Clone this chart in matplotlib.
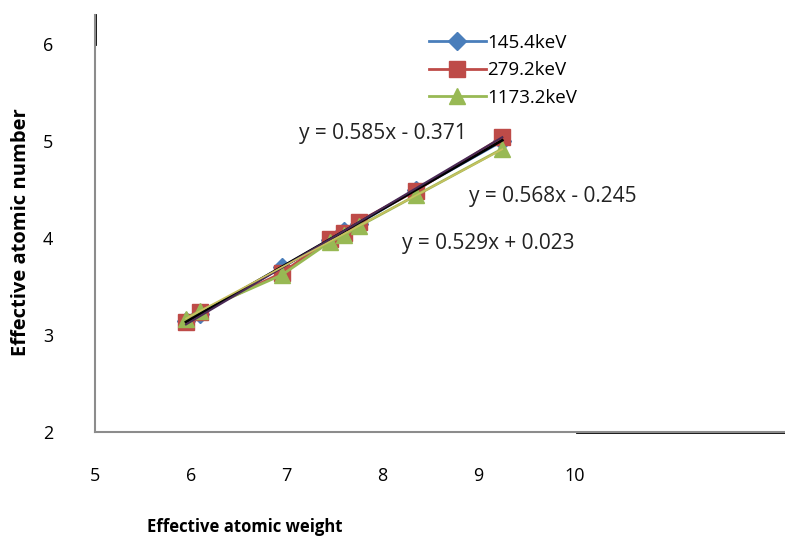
import numpy as np
import matplotlib.pyplot as plt

plt.rcParams['font.family'] = ['Open Sans', 'DejaVu Sans']

# Datos
peso_efectivo = [5.95, 6.10, 6.95, 7.45, 7.60, 7.75, 8.35, 9.25]
z_145 = [3.14, 3.22, 3.70, 3.98, 4.07, 4.15, 4.50, 5.00]
z_279 = [3.13, 3.24, 3.64, 3.99, 4.05, 4.17, 4.49, 5.04]
z_1173 = [3.17, 3.25, 3.62, 3.96, 4.03, 4.12, 4.44, 4.92]

series = ['145.4keV', '279.2keV', '1173.2keV']
pendientes = [0.568, 0.585, 0.529]
ordenadas = [-0.245, -0.371, 0.023]
ecuaciones = ['y = 0.568x - 0.245', 'y = 0.585x - 0.371', 'y = 0.529x + 0.023']

fig = plt.figure(figsize=(7.85, 5.38), dpi=100)
ax = fig.add_axes([0.121, 0.197, 0.879, 0.775])

colores = ['#4a7ebb', '#be4b48', '#98b954']
marcadores = ['D', 's', '^']
tamanos = [9, 12, 12]
for nombre, z, c, m, s in zip(series, [z_145, z_279, z_1173], colores, marcadores, tamanos):
    ax.plot(peso_efectivo, z, color=c, marker=m, markersize=s, lw=2, label=nombre)

# Líneas de tendencia
x_t = np.array([min(peso_efectivo), max(peso_efectivo)])
colores_t = ['black', '#4a2a55', '#c8c060']
anchos_t = [2, 1.5, 1.2]
for a, b, c, w in zip(pendientes, ordenadas, colores_t, anchos_t):
    ax.plot(x_t, a * x_t + b, color=c, lw=w)

fs = 13
fs_eq = 15
ax.text(0.417, 0.715, ecuaciones[1], transform=ax.transAxes, fontsize=fs_eq, ha='center', va='center', color='#222222')
ax.text(0.664, 0.564, ecuaciones[0], transform=ax.transAxes, fontsize=fs_eq, ha='center', va='center', color='#222222')
ax.text(0.570, 0.453, ecuaciones[2], transform=ax.transAxes, fontsize=fs_eq, ha='center', va='center', color='#222222')

ax.set_xlim(5, 12.2)
ax.set_ylim(2, 6.3)
ax.set_xticks([5, 6, 7, 8, 9, 10])
ax.set_yticks([2, 3, 4, 5, 6])
ax.tick_params(axis='x', length=0, pad=25, labelsize=fs)
ax.tick_params(axis='y', length=0, pad=30, labelsize=fs)

ax.spines['top'].set_visible(False)
ax.spines['right'].set_visible(False)
ax.spines['left'].set_color('#8c8c8c')
ax.spines['bottom'].set_color('#8c8c8c')
ax.spines['left'].set_linewidth(1.5)
ax.spines['bottom'].set_linewidth(1.5)
# tramos negros del eje
ax.axhline(2, xmin=0.698, xmax=1, color='black', lw=2, clip_on=False)
ax.axvline(5, ymin=0.93, ymax=1, color='black', lw=2, clip_on=False)

ax.set_xlabel('Effective atomic weight', fontsize=12, fontweight='bold')
ax.xaxis.set_label_coords(0.217, -0.207)
ax.set_ylabel('Effective atomic number', fontsize=14.5, fontweight='bold')
ax.yaxis.set_label_coords(-0.093, 0.48)

ax.legend(loc='upper left', bbox_to_anchor=(0.46, 0.995), frameon=False, fontsize=13.5,
          handlelength=3.0, handletextpad=0.1, labelspacing=0.5)

plt.savefig('out.png', dpi=100)
